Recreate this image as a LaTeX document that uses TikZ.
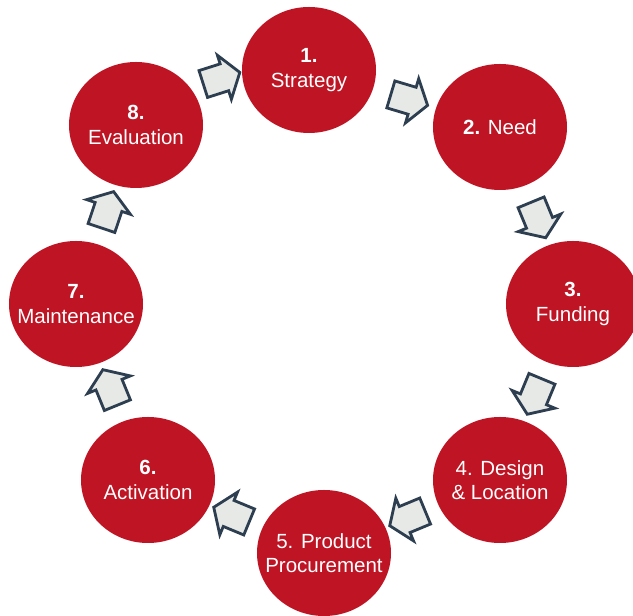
\documentclass[tikz,border=0pt]{standalone}
\usepackage{fontspec}
\setmainfont{Liberation Sans}
\usetikzlibrary{shapes.geometric,shapes.arrows}
\definecolor{stepred}{RGB}{190,20,36}
\definecolor{arrowfill}{RGB}{230,233,230}
\definecolor{arrowline}{RGB}{45,62,80}
\begin{document}
\begin{tikzpicture}[x=0.03cm, y=0.03cm,
    stepcircle/.style={ellipse, fill=stepred, minimum width=4.02cm, minimum height=3.78cm, inner sep=0pt},
    steptext/.style={text=white, align=center, inner sep=0pt, font=\fontsize{17.5}{21}\selectfont},
    flowarrow/.style={single arrow, draw=arrowline, fill=arrowfill, line width=2.4pt, minimum height=1.15cm, minimum width=0pt, inner xsep=0pt, inner ysep=0.38cm, single arrow head extend=0.27cm, single arrow tip angle=110, sloped, allow upside down}]
    \useasboundingbox (0,0) rectangle (633,616);

    \node[stepcircle, label={[steptext]center:\textbf{1.}\\Strategy}] (S1) at (309,546) {};
    \node[stepcircle, label={[steptext]center:\textbf{2.} Need}] (S2) at (500,489) {};
    \node[stepcircle, label={[steptext]center:\textbf{3.}\\Funding}] (S3) at (573,312) {};
    \node[stepcircle, label={[steptext]center:4. Design\\\& Location}] (S4) at (500,136) {};
    \node[stepcircle, label={[steptext]center:5. Product\\Procurement}] (S5) at (324,63) {};
    \node[stepcircle, label={[steptext]center:\textbf{6.}\\Activation}] (S6) at (148,136) {};
    \node[stepcircle, label={[steptext]center:\textbf{7.}\\Maintenance}] (S7) at (76,312) {};
    \node[stepcircle, label={[steptext]center:\textbf{8.}\\Evaluation}] (S8) at (136,491) {};

    \path (S8) -- node[flowarrow, yshift=0.56cm] {} (S1);
    \path (S1) -- node[flowarrow] {} (S2);
    \path (S2) -- node[flowarrow] {} (S3);
    \path (S3) -- node[flowarrow] {} (S4);
    \path (S4) -- node[flowarrow] {} (S5);
    \path (S5) -- node[flowarrow] {} (S6);
    \path (S6) -- node[flowarrow] {} (S7);
    \path (S7) -- node[flowarrow] {} (S8);
\end{tikzpicture}
\end{document}
